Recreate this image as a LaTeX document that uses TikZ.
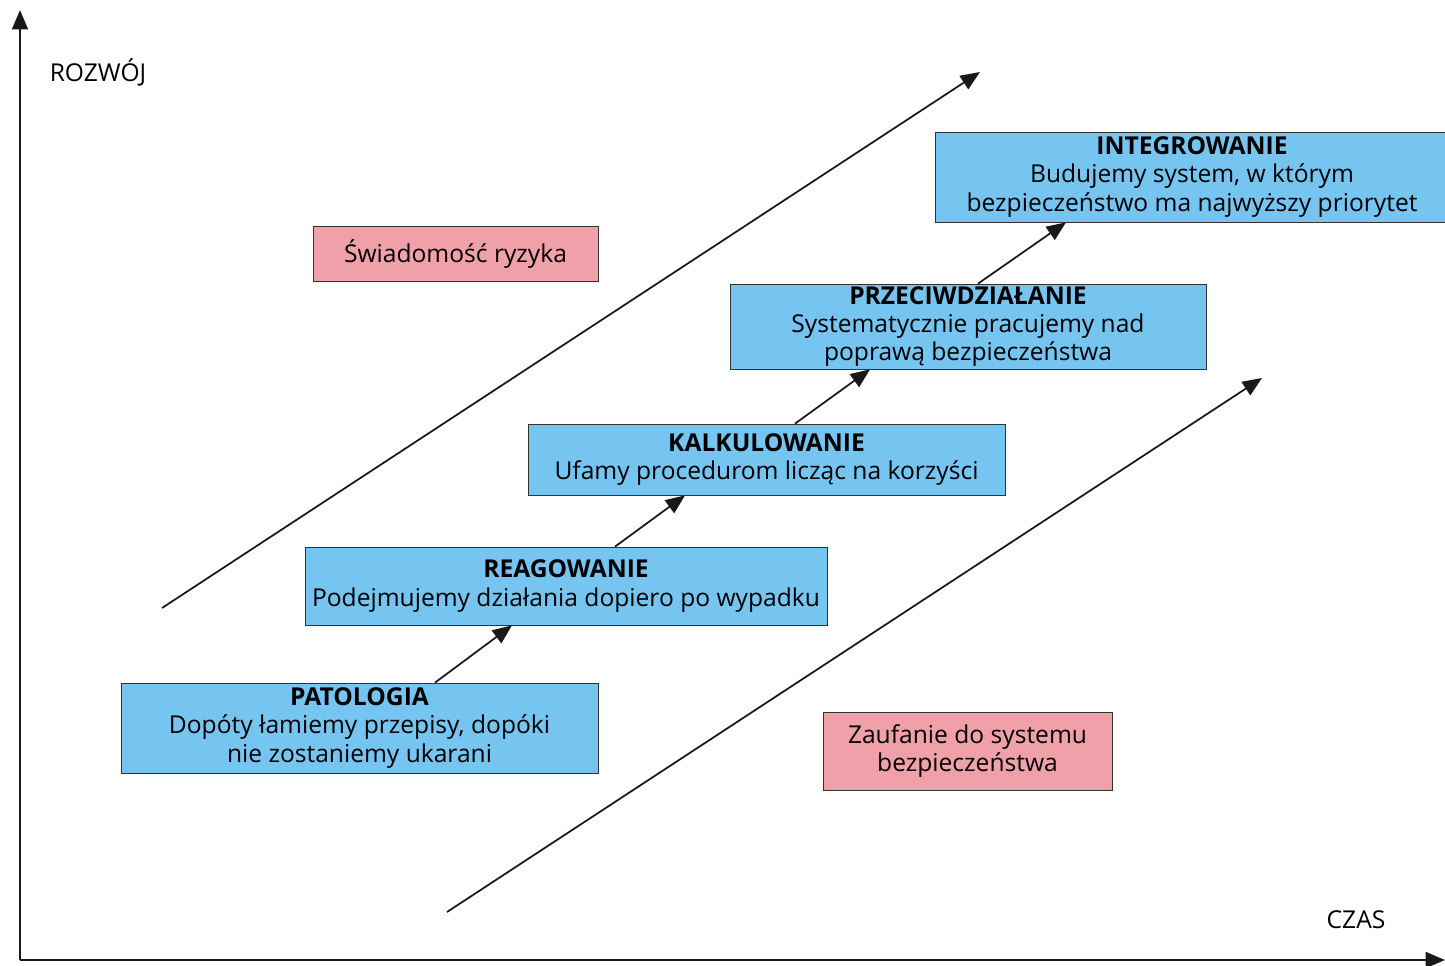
\documentclass[tikz,border=0pt]{standalone}
\usepackage{fontspec}
\setmainfont{Open Sans}
\usetikzlibrary{arrows.meta}
\definecolor{stepblue}{RGB}{118,196,240}
\definecolor{notepink}{RGB}{240,160,168}
\begin{document}
\begin{tikzpicture}[x=0.02cm,y=-0.02cm,
  stage/.style={draw=black!80,fill=stepblue,align=center,inner sep=0pt,font=\fontsize{14}{16}\selectfont},
  note/.style={draw=black!80,fill=notepink,align=center,inner sep=0pt,font=\fontsize{14}{16}\selectfont},
  arr/.style={-{Triangle[length=11pt,width=9pt]},line width=1pt,black!90}]
\useasboundingbox (0,0) rectangle (1445,965);

% axes
\coordinate (o) at (20,960);
\coordinate (ytop) at (20,10);
\coordinate (xend) at (1445,960);
\draw[arr,line width=1.3pt] (o) -- (ytop);
\draw[arr,line width=1.3pt] (o) -- (xend);
\node (rozwoj) at (98,72) {\fontsize{14}{16}\selectfont ROZWÓJ};
\node (czas) at (1356,920) {\fontsize{14}{16}\selectfont CZAS};

% long arrows
\coordinate (a1) at (162,608);
\coordinate (b1) at (980,72);
\coordinate (a2) at (447,912);
\coordinate (b2) at (1262,378);
\draw[arr] (a1) -- (b1);
\draw[arr] (a2) -- (b2);

% stages
\node[stage,minimum width=477*0.02cm,minimum height=90*0.02cm] (patologia) at (359.5,728)
  {\textbf{PATOLOGIA}\\Dopóty łamiemy przepisy, dopóki\\nie zostaniemy ukarani};
\node[stage,minimum width=522*0.02cm,minimum height=78*0.02cm] (reagowanie) at (566,586)
  {\textbf{REAGOWANIE}\\Podejmujemy działania dopiero po wypadku};
\node[stage,minimum width=477*0.02cm,minimum height=71*0.02cm] (kalkulowanie) at (766.5,459.5)
  {\textbf{KALKULOWANIE}\\Ufamy procedurom licząc na korzyści};
\node[stage,minimum width=476*0.02cm,minimum height=85*0.02cm] (przeciw) at (968,326.5)
  {\textbf{PRZECIWDZIAŁANIE}\\Systematycznie pracujemy nad\\poprawą bezpieczeństwa};
\node[stage,minimum width=514*0.02cm,minimum height=90*0.02cm] (integrowanie) at (1192,177)
  {\textbf{INTEGROWANIE}\\Budujemy system, w którym\\bezpieczeństwo ma najwyższy priorytet};

% notes
\node[note,minimum width=285*0.02cm,minimum height=55*0.02cm] (swiadomosc) at (455.5,253.5)
  {Świadomość ryzyka};
\node[note,minimum width=289*0.02cm,minimum height=78*0.02cm] (zaufanie) at (967.5,751)
  {Zaufanie do systemu\\bezpieczeństwa};

% steps
\draw[arr] (patologia.north -| 435,0) -- (reagowanie.south -| 512,0);
\draw[arr] (reagowanie.north -| 615,0) -- (kalkulowanie.south -| 685,0);
\draw[arr] (kalkulowanie.north -| 795,0) -- (przeciw.south -| 870,0);
\draw[arr] (przeciw.north -| 978,0) -- (integrowanie.south -| 1066,0);
\end{tikzpicture}
\end{document}
